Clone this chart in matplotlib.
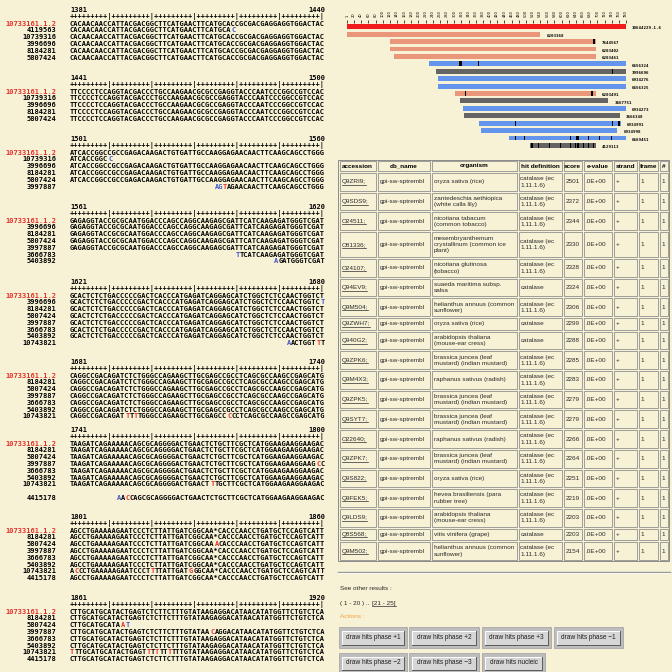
import matplotlib
matplotlib.use('Agg')
import matplotlib.pyplot as plt
from matplotlib.patches import Rectangle

BG = '#f7f2d6'
RED = '#e8302a'
BLUE = '#4056c8'
MONO = 'DejaVu Sans Mono'
SANS = 'Liberation Sans'

# ---------------- alignment (left panel) ----------------
ref_label = "10733161.1.2"
block_starts = [1381, 1441, 1501, 1561, 1621, 1681, 1741, 1801, 1861]
block_refs = [
    "CACAACAACCATTACGACGGCTTCATGAACTTCATGCACCGCGACGAGGAGGTGGACTAC",
    "TTCCCCTCCAGGTACGACCCTGCCAAGAACGCGCCGAGGTACCCAATCCCGGCCGTCCAC",
    "ATCACCGGCCGCCGAGACAAGACTGTGATTGCCAAGGAGAACAACTTCAAGCAGCCTGGG",
    "GAGAGGTACCGCGCAATGGACCCAGCCAGGCAAGAGCGATTCATCAAGAGATGGGTCGAT",
    "GCACTCTCTGACCCCCGACTCACCCATGAGATCAGGAGCATCTGGCTCTCCAACTGGTCT",
    "CAGGCCGACAGATCTCTGGGCCAGAAGCTTGCGAGCCGCCTCAGCGCCAAGCCGAGCATG",
    "TAAGATCAGAAAAACAGCGCAGGGGACTGAACTCTGCTTCGCTCATGGAAGAAGGAAGAC",
    "AGCCTGAAAAAGAATCCCTCTTATTGATCGGCAA*CACCCAACCTGATGCTCCAGTCATT",
    "CTTGCATGCATACTGAGTCTCTTCTTTGTATAAGAGGACATAACATATGGTTCTGTCTCA",
]
# header y of each block (pixels from top)
block_y = [10, 78, 139, 207, 282, 362, 430, 517, 598]
# rows: (label, first col, end col, {col: (char, colour)}); None = empty line
block_rows = [
    [("4119563", 0, 39, {38: ('C', 'b')}), ("10739316", 0, 60, {}),
     ("3996696", 0, 60, {}), ("8184281", 0, 60, {}), ("5807424", 0, 60, {})],
    [("10739316", 0, 60, {}), ("3996696", 0, 60, {}), ("8184281", 0, 60, {}),
     ("5807424", 0, 60, {})],
    [("10739316", 0, 10, {9: ('C', 'b')}), ("3996696", 0, 60, {}),
     ("8184281", 0, 60, {}), ("5807424", 0, 60, {}),
     ("3997887", 34, 60, {34: ('A', 'b'), 35: ('G', 'b'), 36: ('T', 'r')})],
    [("3996696", 0, 60, {}), ("8184281", 0, 60, {}), ("5807424", 0, 60, {}),
     ("3997887", 0, 60, {}), ("3666783", 39, 60, {39: ('T', 'b')}),
     ("5403892", 48, 60, {48: ('A', 'b')})],
    [("3996696", 0, 60, {59: ('T', 'b')}), ("8184281", 0, 60, {}),
     ("5807424", 0, 60, {}), ("3997887", 0, 60, {}), ("3666783", 0, 60, {}),
     ("5403892", 0, 60, {}),
     ("10743821", 51, 60, {51: ('A', 'b'), 58: ('T', 'r')})],
    [("8184281", 0, 60, {}), ("5807424", 0, 60, {}), ("3997887", 0, 60, {}),
     ("3666783", 0, 60, {}), ("5403892", 0, 60, {}),
     ("10743821", 0, 60, {13: ('T', 'r'), 15: ('T', 'r'), 37: ('C', 'r')})],
    [("8184281", 0, 60, {}), ("5807424", 0, 60, {}),
     ("3997887", 0, 60, {58: ('C', 'r')}), ("3666783", 0, 60, {}),
     ("5403892", 0, 60, {}), ("10743821", 0, 60, {33: ('T', 'r')}), None,
     ("4415178", 11, 60, {11: ('A', 'b'), 13: ('C', 'r')})],
    [("8184281", 0, 60, {}), ("5807424", 0, 60, {34: ('A', 'r')}),
     ("3997887", 0, 60, {}), ("3666783", 0, 60, {}), ("5403892", 0, 60, {}),
     ("10743821", 0, 60, {1: ('C', 'r'), 19: ('T', 'r'), 28: ('G', 'r')}),
     ("4415178", 0, 60, {})],
    [("8184281", 0, 60, {}), ("5807424", 0, 14, {12: ('A', 'r'), 13: ('T', 'b')}),
     ("3997887", 0, 60, {33: ('C', 'r')}), ("3666783", 0, 60, {}),
     ("5403892", 0, 60, {}),
     ("10743821", 0, 60, {0: ('T', 'r'), 18: ('T', 'r'), 20: ('T', 'r'), 23: ('T', 'r')}),
     ("4415178", 0, 60, {})],
]

# ---------------- hit graph ----------------
hit_ids = ["10644229.1.6", "6203368", "7644567", "6203402", "6203461", "6656324",
           "3996696", "6934276", "6656325", "6203491", "3667751", "6934273",
           "3666348", "6934991", "6934998", "6669451", "4129113"]
hit_start = [1, 1, 121, 121, 132, 229, 249, 254, 255, 302, 315, 323, 328, 370, 375, 453, 512]
hit_end = [779, 540, 696, 696, 696, 779, 779, 779, 779, 696, 730, 779, 763, 766, 755, 779, 696]
hit_kind = ['query', 's', 's', 's', 's', 'b', 'g', 'b', 'b', 's', 'g', 'b', 'g', 'b', 'b', 'b', 'g']
hit_marks = [[], [], [(691, 1)], [], [], [(318, 1), (320, 0), (368, 0)], [(741, 0)], [], [],
             [(331, 0), (685, 1)], [], [], [], [(470, 0), (741, 0), (761, 1)], [],
             [(470, 0), (497, 0), (625, 0), (644, 1), (676, 0), (705, 0), (739, 0)],
             [(517, 1), (536, 0), (566, 0), (596, 0), (625, 0), (638, 0), (646, 1),
              (661, 0), (676, 0), (689, 0)]]
seq_ticks = [1] + list(range(20, 781, 20))
kind_colors = {'query': '#f01c1c', 's': '#e9967a', 'b': '#6495ed', 'g': '#646464'}

# ---------------- result table ----------------
headers = ['accession', 'db_name', 'organism', 'hit definition', 'score', 'e-value',
           'strand', 'frame', '#']
accessions = ['Q9ZRI9;', 'Q9SDS9;', 'O24511;', 'O81336;', 'O24107;', 'Q94EV9;', 'Q9M504;',
              'Q9ZWH7;', 'Q940G2;', 'Q9ZPK6;', 'Q9M4X3;', 'Q9ZPK5;', 'Q9SYT7;', 'O22640;',
              'Q9ZPK7;', 'Q9S822;', 'Q9FEK5;', 'Q9LDS9;', 'Q8S568;', 'Q9M502;']
organisms = ['oryza sativa (rice)', 'zantedeschia aethiopica\n(white calla lily)',
             'nicotiana tabacum\n(common tobacco)',
             'mesembryanthemum\ncrystallinum (common ice\nplant)',
             'nicotiana glutinosa\n(tobacco)', 'suaeda maritima subsp.\nsalsa',
             'helianthus annuus (common\nsunflower)', 'oryza sativa (rice)',
             'arabidopsis thaliana\n(mouse-ear cress)',
             'brassica juncea (leaf\nmustard) (indian mustard)', 'raphanus sativus (radish)',
             'brassica juncea (leaf\nmustard) (indian mustard)',
             'brassica juncea (leaf\nmustard) (indian mustard)', 'raphanus sativus (radish)',
             'brassica juncea (leaf\nmustard) (indian mustard)', 'oryza sativa (rice)',
             'hevea brasiliensis (para\nrubber tree)', 'arabidopsis thaliana\n(mouse-ear cress)',
             'vitis vinifera (grape)', 'helianthus annuus (common\nsunflower)']
hit_defs = ['catalase (ec\n1.11.1.6)'] * 20
for i in [5, 7, 8, 18]:
    hit_defs[i] = 'catalase'
scores = [2501, 2372, 2344, 2330, 2328, 2324, 2306, 2299, 2288, 2285, 2283, 2279, 2279,
          2266, 2264, 2251, 2219, 2203, 2203, 2154]
col_x = [338.7, 376.7, 431, 517.7, 562.7, 582.7, 613.3, 637.7, 658.7, 668.7]

button_rows = [["draw hits phase +1", "draw hits phase +2", "draw hits phase +3", "draw hits phase \u22121"],
               ["draw hits phase \u22122", "draw hits phase \u22123", "draw hits nucleic"]]
button_x = [[(339, 407), (409, 479), (482, 551), (554, 623)],
            [(339, 407), (409, 479), (482, 545)]]
button_y = [(627, 648), (653, 673)]

fig = plt.figure(figsize=(6.72, 6.72), dpi=100, facecolor=BG)
ax = fig.add_axes([0, 0, 1, 1])
ax.set_xlim(0, 672)
ax.set_ylim(672, 0)
ax.axis('off')
renderer = fig.canvas.get_renderer()

# ---- left: sequence blocks ----
SEQ_X, LAB_X, LINE = 70, 56, 6.8
seq_kw = dict(family=MONO, weight='bold', fontsize=5.02, va='center', ha='left')
cmap = {'k': 'black', 'r': RED, 'b': BLUE}
probe = ax.text(0, 0, 'A' * 60, **seq_kw)
CW = probe.get_window_extent(renderer).width / 60
probe.remove()

for start, ref, y0, rows in zip(block_starts, block_refs, block_y, block_rows):
    ax.text(SEQ_X, y0, str(start), **seq_kw)
    ax.text(SEQ_X + 60 * CW, y0, str(start + 59), **{**seq_kw, 'ha': 'right'})
    ax.text(SEQ_X, y0 + LINE, ('+' * 9 + '|') * 6, **seq_kw)
    all_rows = [(ref_label, 0, 60, {})] + rows
    for k, row in enumerate(all_rows):
        if row is None:
            continue
        label, c0, c1, subs = row
        y = y0 + LINE * (2 + k)
        ax.text(LAB_X, y, label, color=RED if k == 0 else 'black',
                **{**seq_kw, 'ha': 'right'})
        # split the row into runs of one colour
        runs = []
        for c in range(c0, c1):
            ch, col = subs.get(c, (ref[c], 'k'))
            if runs and runs[-1][2] == col:
                runs[-1][1] += ch
            else:
                runs.append([c, ch, col])
        for c, s, col in runs:
            ax.text(SEQ_X + c * CW, y, s, color=cmap[col], **seq_kw)

# ---- right top: hit graph ----
px = lambda v: v / 672
top_px, step = 23.1, 7.41
n = len(hit_ids)
axh = fig.add_axes([px(347.3), 1 - px(top_px + n * step), px(626 - 347.3), px(n * step)])
axh.set_facecolor('none')
axh.set_xlim(1, 780)
axh.set_ylim(n - 0.5, -0.5)
for s in axh.spines.values():
    s.set_visible(False)
axh.set_yticks([])
axh.xaxis.tick_top()
axh.set_xticks(seq_ticks)
axh.set_xticklabels([str(t) for t in seq_ticks])
axh.tick_params(axis='x', direction='out', length=2.2, width=0.5, pad=2,
                labelsize=2.6, labelrotation=90, colors='black')
for i in range(n):
    h = 0.72 if i == 0 else 0.66
    axh.barh(i, hit_end[i] - hit_start[i], left=hit_start[i], height=h,
             color=kind_colors[hit_kind[i]], linewidth=0)
    for pos, thick in hit_marks[i]:
        axh.barh(i, 7 if thick else 3, left=pos - (3.5 if thick else 1.5), height=h,
                 color='black', linewidth=0)
    axh.annotate(hit_ids[i], (hit_end[i], i), xytext=(4.5, -1.2), textcoords='offset points',
                 fontsize=3.0, family=MONO, weight='bold', va='center', ha='left')

# ---- right: table ----
TXT = '#2a2a2a'
tab_kw = dict(family=SANS, fontsize=4.6, va='center', color=TXT)
heights = {1: 13.5, 2: 19.7, 3: 27}
top = 160
table_rows = []
for i in range(len(accessions)):
    cells = [accessions[i], 'gpi-sw-sptrembl', organisms[i], hit_defs[i], str(scores[i]),
             '.0E+00', '+', '1', '1']
    nl = max(c.count('\n') + 1 for c in cells)
    table_rows.append((cells, heights[nl]))

y = top
rows_all = [(headers, 12)] + table_rows
for r, (cells, hgt) in enumerate(rows_all):
    for j, txt in enumerate(cells):
        x0, x1 = col_x[j], col_x[j + 1]
        ax.add_patch(Rectangle((x0 + 1, y + 1), x1 - x0 - 2, hgt - 2, facecolor='none',
                               edgecolor='#8f8f8f', linewidth=0.6))
        lines = txt.split('\n')
        for k, line in enumerate(lines):
            ly = y + hgt / 2 + (k - (len(lines) - 1) / 2) * 6.3
            if r == 0:
                ax.text((x0 + x1) / 2, ly, line, ha='center', weight='bold',
                        **{**tab_kw, 'color': 'black'})
            else:
                t = ax.text(x0 + 2.8, ly, line, ha='left', **tab_kw)
                if j == 0:
                    w = t.get_window_extent(renderer).width
                    ax.plot([x0 + 2.8, x0 + 2.8 + w], [ly + 3.0, ly + 3.0],
                            color=TXT, lw=0.5)
    y += hgt
tab_bottom = y
ax.add_patch(Rectangle((col_x[0] - 0.5, top - 0.5), col_x[-1] - col_x[0] + 1,
                       tab_bottom - top + 1, facecolor='none', edgecolor='#7a7a7a',
                       linewidth=0.6))

# ---- bottom right: links and buttons ----
ax.plot([338, 670], [572, 572], color='#9a9a9a', lw=1.0)
ax.plot([338, 670], [573.2, 573.2], color='white', lw=0.6)
ax.text(340, 589, 'See other results :', ha='left', **tab_kw)
t = ax.text(340, 603, '( 1 - 20 ) .. ', ha='left', **tab_kw)
w = t.get_window_extent(renderer).width
t2 = ax.text(340 + w + 1, 603, '[21 - 25]', ha='left', **tab_kw)
w2 = t2.get_window_extent(renderer).width
ax.plot([340 + w + 1, 340 + w + 1 + w2], [606, 606], color=TXT, lw=0.5)
ax.text(340, 617, 'Actions :', ha='left', **{**tab_kw, 'color': '#f5a040'})

for labels, xs, (y0, y1) in zip(button_rows, button_x, button_y):
    for lab, (x0, x1) in zip(labels, xs):
        ax.add_patch(Rectangle((x0, y0), x1 - x0, y1 - y0, facecolor='#bdbdbd',
                               edgecolor='#a8a8a8', linewidth=0.6))
        bx0, bx1, by0, by1 = x0 + 3, x1 - 3, y0 + 3.5, y1 - 3.5
        ax.add_patch(Rectangle((bx0, by0), bx1 - bx0, by1 - by0, facecolor='#d6d6d6',
                               edgecolor='none'))
        ax.plot([bx0, bx0, bx1], [by1, by0, by0], color='white', lw=0.7)
        ax.plot([bx0, bx1, bx1], [by1, by1, by0], color='#5a5a5a', lw=0.7)
        ax.text((bx0 + bx1) / 2, (by0 + by1) / 2, lab, ha='center',
                **{**tab_kw, 'fontsize': 4.7, 'color': '#1e1e1e'})

fig.savefig('out.png', dpi=100, facecolor=BG)
